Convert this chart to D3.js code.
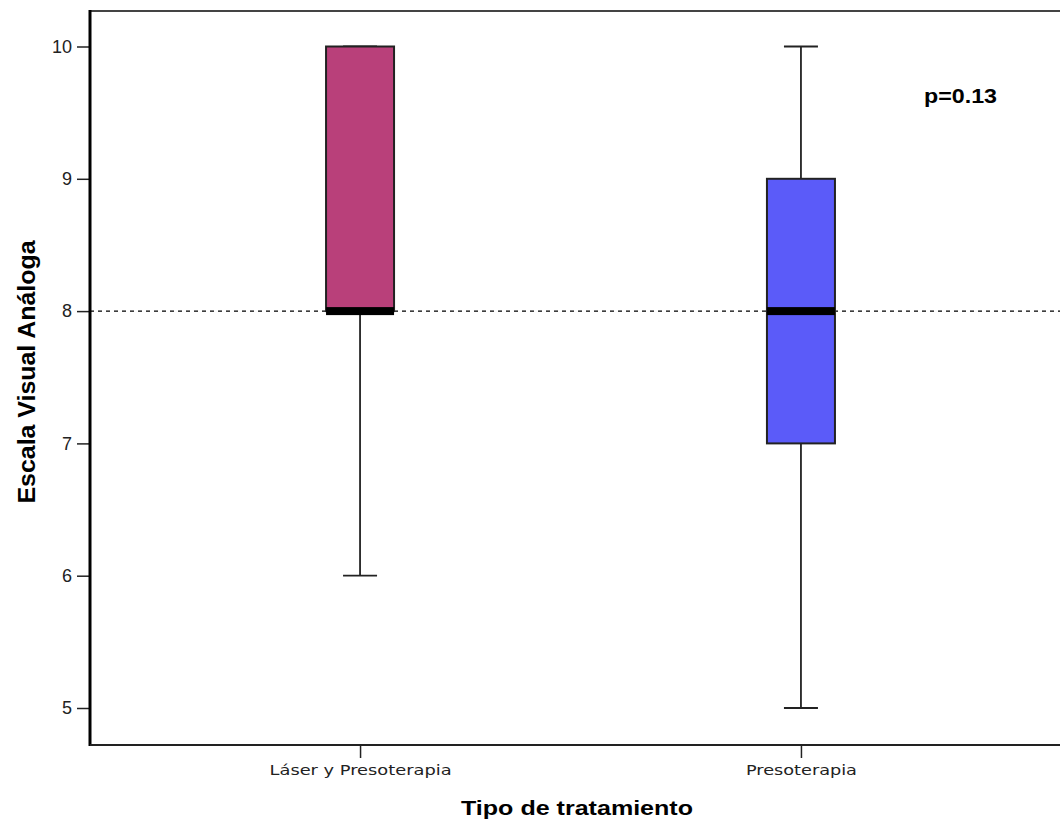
<!DOCTYPE html>
<html><head><meta charset="utf-8">
<script src="https://cdn.jsdelivr.net/npm/d3@7"></script>
<style>body{margin:0;background:#fff}svg{display:block}</style>
</head><body>
<svg id="c" width="1060" height="825"></svg>
<script>
const categories = ["Láser y Presoterapia", "Presoterapia"];
const whiskerLow = [6, 5];
const q1 = [8, 7];
const median = [8, 8];
const q3 = [10, 9];
const whiskerHigh = [10, 10];
const boxColors = ["#B9407A", "#5B5BF9"];
const yTicks = [5, 6, 7, 8, 9, 10];
const refValue = 8;
const pLabel = "p=0.13";

(function () {
const svg = d3.select("#c");
const mLeft = 90, mTop = 11, mBottom = 745, mRight = 1071;
const y = d3.scaleLinear().domain([5, 10]).range([708, 46.5]);
const x = d3.scalePoint().domain(categories).range([mLeft, mRight]).padding(0.6125);
const boxW = 68, capW = 34;
const narrow = "'Liberation Sans Narrow', 'Arial Narrow', 'Liberation Sans', Arial, sans-serif";

svg.append("line").attr("x1", mLeft).attr("x2", 1060).attr("y1", mTop).attr("y2", mTop)
  .attr("stroke", "#444").attr("stroke-width", 2);

svg.append("line").attr("x1", mLeft).attr("x2", 1060).attr("y1", y(refValue)).attr("y2", y(refValue))
  .attr("stroke", "#000").attr("stroke-width", 1.3).attr("stroke-dasharray", "4,4");

const data = categories.map((c, i) => ({c, lo: whiskerLow[i], q1: q1[i], med: median[i], q3: q3[i], hi: whiskerHigh[i], col: boxColors[i]}));
const g = svg.selectAll("g.box").data(data).join("g").attr("class", "box");
const wStroke = "#222", wW = 1.8;
g.append("line").attr("x1", d => x(d.c)).attr("x2", d => x(d.c))
  .attr("y1", d => y(d.hi)).attr("y2", d => y(d.q3)).attr("stroke", wStroke).attr("stroke-width", wW);
g.append("line").attr("x1", d => x(d.c)).attr("x2", d => x(d.c))
  .attr("y1", d => y(d.q1)).attr("y2", d => y(d.lo)).attr("stroke", wStroke).attr("stroke-width", wW);
g.append("line").attr("x1", d => x(d.c) - capW/2).attr("x2", d => x(d.c) + capW/2)
  .attr("y1", d => y(d.hi)).attr("y2", d => y(d.hi)).attr("stroke", wStroke).attr("stroke-width", wW);
g.append("line").attr("x1", d => x(d.c) - capW/2).attr("x2", d => x(d.c) + capW/2)
  .attr("y1", d => y(d.lo)).attr("y2", d => y(d.lo)).attr("stroke", wStroke).attr("stroke-width", wW);
g.append("rect").attr("x", d => x(d.c) - boxW/2).attr("width", boxW)
  .attr("y", d => y(d.q3)).attr("height", d => y(d.q1) - y(d.q3))
  .attr("fill", d => d.col).attr("stroke", "#222").attr("stroke-width", 2);
g.append("rect").attr("x", d => x(d.c) - boxW/2).attr("width", boxW)
  .attr("y", d => y(d.med) - 4).attr("height", 8).attr("fill", "#000");

const yAxis = d3.axisLeft(y).tickValues(yTicks).tickSize(12).tickPadding(5).tickFormat(d3.format("d"));
const ya = svg.append("g").attr("transform", `translate(${mLeft - 1},0)`).call(yAxis);
ya.select(".domain").remove();
ya.selectAll(".tick line").attr("stroke", "#222").attr("stroke-width", 1.5);
ya.selectAll("text").attr("font-family", narrow).attr("font-size", 18).attr("fill", "#222");
svg.append("line").attr("x1", mLeft).attr("x2", mLeft).attr("y1", mTop - 1).attr("y2", mBottom + 1)
  .attr("stroke", "#000").attr("stroke-width", 3);

const xAxis = d3.axisBottom(x).tickSize(13).tickPadding(7);
const xa = svg.append("g").attr("transform", `translate(0,${mBottom})`).call(xAxis);
xa.select(".domain").remove();
xa.selectAll(".tick line").attr("stroke", "#222").attr("stroke-width", 1.5);
xa.selectAll("text").attr("font-family", "DejaVu Sans, sans-serif").attr("font-size", 14).attr("fill", "#222")
  .attr("textLength", (d, i) => i === 0 ? 182 : 111).attr("lengthAdjust", "spacingAndGlyphs");
svg.append("line").attr("x1", mLeft).attr("x2", 1060).attr("y1", mBottom).attr("y2", mBottom)
  .attr("stroke", "#222").attr("stroke-width", 2);

svg.append("text").attr("x", 577).attr("y", 815).attr("text-anchor", "middle")
  .attr("font-family", narrow).attr("font-weight", "bold").attr("font-size", 21)
  .attr("textLength", 232).attr("lengthAdjust", "spacingAndGlyphs").text("Tipo de tratamiento");
svg.append("text").attr("transform", "translate(35,372) rotate(-90)").attr("text-anchor", "middle")
  .attr("font-family", narrow).attr("font-weight", "bold").attr("font-size", 23)
  .attr("textLength", 263).attr("lengthAdjust", "spacingAndGlyphs").text("Escala Visual Análoga");
svg.append("text").attr("x", 924).attr("y", 103)
  .attr("font-family", narrow).attr("font-weight", "bold").attr("font-size", 20)
  .attr("textLength", 73).attr("lengthAdjust", "spacingAndGlyphs").text(pLabel);
})();
</script>
</body></html>
